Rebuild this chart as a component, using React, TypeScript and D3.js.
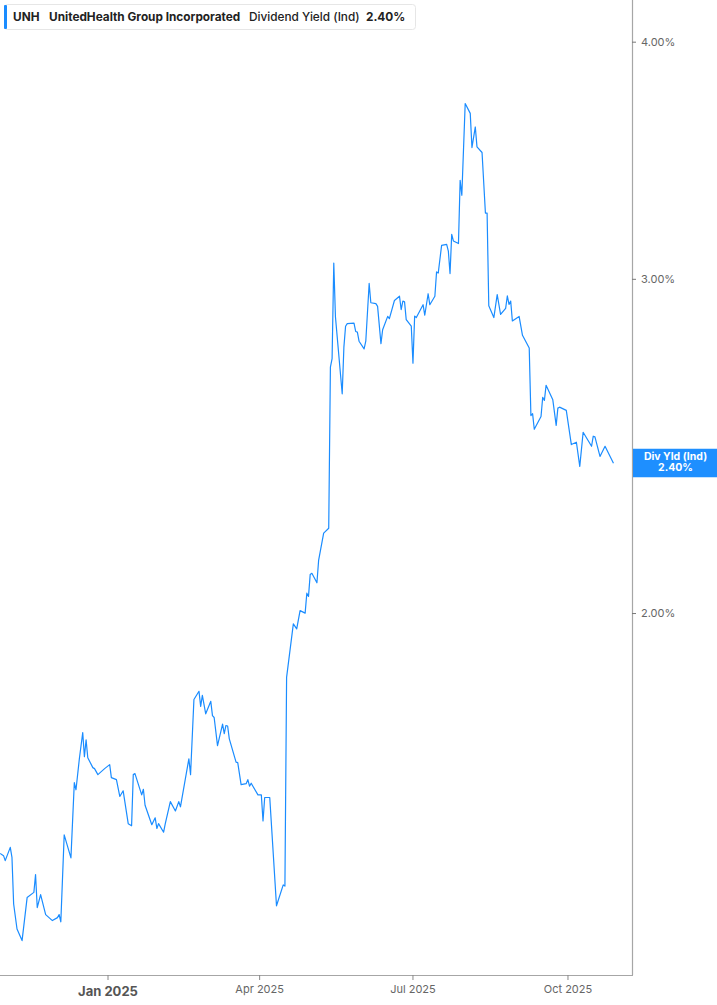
import { useEffect, useRef } from 'react';
import * as d3 from 'd3';

const dates = [
  "2024-10-29", "2024-10-31", "2024-11-01", "2024-11-04", "2024-11-05", "2024-11-06", "2024-11-08", "2024-11-11",
  "2024-11-14", "2024-11-18", "2024-11-19", "2024-11-20", "2024-11-22", "2024-11-25", "2024-11-29", "2024-12-02",
  "2024-12-03", "2024-12-04", "2024-12-06", "2024-12-10", "2024-12-12", "2024-12-13", "2024-12-15", "2024-12-17",
  "2024-12-18", "2024-12-19", "2024-12-20", "2024-12-23", "2024-12-24", "2024-12-26", "2024-12-30", "2025-01-02",
  "2025-01-03", "2025-01-06", "2025-01-08", "2025-01-10", "2025-01-13", "2025-01-15", "2025-01-16", "2025-01-17",
  "2025-01-21", "2025-01-22", "2025-01-23", "2025-01-27", "2025-01-29", "2025-01-30", "2025-01-31", "2025-02-03",
  "2025-02-04", "2025-02-07", "2025-02-10", "2025-02-12", "2025-02-13", "2025-02-18", "2025-02-19", "2025-02-21",
  "2025-02-24", "2025-02-25", "2025-02-26", "2025-02-28", "2025-03-03", "2025-03-04", "2025-03-05", "2025-03-07",
  "2025-03-10", "2025-03-11", "2025-03-12", "2025-03-13", "2025-03-14", "2025-03-18", "2025-03-19", "2025-03-21",
  "2025-03-24", "2025-03-25", "2025-03-26", "2025-03-27", "2025-03-28", "2025-03-31", "2025-04-02", "2025-04-03",
  "2025-04-04", "2025-04-07", "2025-04-11", "2025-04-15", "2025-04-16", "2025-04-17", "2025-04-21", "2025-04-23",
  "2025-04-25", "2025-04-28", "2025-04-29", "2025-04-30", "2025-05-01", "2025-05-02", "2025-05-05", "2025-05-06",
  "2025-05-09", "2025-05-12", "2025-05-13", "2025-05-14", "2025-05-15", "2025-05-16", "2025-05-20", "2025-05-21",
  "2025-05-22", "2025-05-23", "2025-05-27", "2025-05-28", "2025-05-29", "2025-05-30", "2025-06-02", "2025-06-03",
  "2025-06-05", "2025-06-06", "2025-06-09", "2025-06-10", "2025-06-12", "2025-06-13", "2025-06-16", "2025-06-17",
  "2025-06-20", "2025-06-23", "2025-06-24", "2025-06-25", "2025-06-26", "2025-06-27", "2025-06-30", "2025-07-01",
  "2025-07-02", "2025-07-03", "2025-07-07", "2025-07-08", "2025-07-10", "2025-07-11", "2025-07-14", "2025-07-15",
  "2025-07-16", "2025-07-18", "2025-07-21", "2025-07-22", "2025-07-23", "2025-07-24", "2025-07-25", "2025-07-28",
  "2025-07-29", "2025-07-30", "2025-08-01", "2025-08-04", "2025-08-05", "2025-08-07", "2025-08-08", "2025-08-11",
  "2025-08-13", "2025-08-14", "2025-08-15", "2025-08-18", "2025-08-20", "2025-08-22", "2025-08-25", "2025-08-26",
  "2025-08-27", "2025-08-28", "2025-08-29", "2025-09-02", "2025-09-04", "2025-09-08", "2025-09-09", "2025-09-10",
  "2025-09-11", "2025-09-15", "2025-09-16", "2025-09-17", "2025-09-18", "2025-09-22", "2025-09-24", "2025-09-25",
  "2025-09-26", "2025-09-30", "2025-10-03", "2025-10-06", "2025-10-08", "2025-10-10", "2025-10-15", "2025-10-16",
  "2025-10-17", "2025-10-20", "2025-10-23", "2025-10-28"
];

// dividend yield, percent
const yields = [
  1.495, 1.491, 1.482, 1.506, 1.488, 1.406, 1.364, 1.345,
  1.417, 1.426, 1.457, 1.400, 1.422, 1.388, 1.378, 1.383,
  1.388, 1.376, 1.529, 1.487, 1.629, 1.615, 1.677, 1.731,
  1.681, 1.716, 1.679, 1.659, 1.657, 1.645, 1.657, 1.665,
  1.639, 1.635, 1.602, 1.613, 1.550, 1.546, 1.645, 1.647,
  1.605, 1.616, 1.585, 1.548, 1.561, 1.541, 1.550, 1.534,
  1.550, 1.592, 1.574, 1.592, 1.582, 1.677, 1.645, 1.802,
  1.820, 1.787, 1.811, 1.771, 1.798, 1.767, 1.763, 1.704,
  1.749, 1.729, 1.746, 1.745, 1.718, 1.670, 1.669, 1.625,
  1.627, 1.635, 1.622, 1.628, 1.622, 1.605, 1.605, 1.555,
  1.600, 1.600, 1.403, 1.439, 1.437, 1.851, 1.975, 1.963,
  2.007, 2.001, 2.050, 2.042, 2.097, 2.100, 2.076, 2.133,
  2.205, 2.218, 2.697, 2.725, 3.060, 2.866, 2.611, 2.763,
  2.834, 2.843, 2.845, 2.816, 2.814, 2.783, 2.757, 2.783,
  2.985, 2.916, 2.913, 2.903, 2.775, 2.822, 2.868, 2.860,
  2.924, 2.939, 2.892, 2.922, 2.919, 2.857, 2.834, 2.710,
  2.869, 2.864, 2.909, 2.872, 2.948, 2.909, 2.939, 3.027,
  3.023, 3.126, 3.130, 3.104, 3.021, 3.168, 3.143, 3.133,
  3.383, 3.322, 3.713, 3.669, 3.520, 3.609, 3.523, 3.499,
  3.251, 3.251, 2.905, 2.864, 2.945, 2.875, 2.896, 2.940,
  2.910, 2.922, 2.852, 2.868, 2.803, 2.760, 2.543, 2.549,
  2.501, 2.540, 2.600, 2.590, 2.638, 2.592, 2.513, 2.566,
  2.569, 2.559, 2.455, 2.462, 2.391, 2.492, 2.450, 2.480,
  2.478, 2.420, 2.450, 2.400
];

const xTickDates = ["2025-01-01", "2025-04-01", "2025-07-01", "2025-10-01"];
const yTicks = [2, 3, 4];

const ticker = "UNH";
const company = "UnitedHealth Group Incorporated";
const metric = "Dividend Yield (Ind)";
const badgeTitle = "Div Yld (Ind)";

export default function App() {
  const svgRef = useRef<SVGSVGElement>(null);

  useEffect(() => {
    document.body.style.margin = "0";
    if (!svgRef.current) return;

    const width = 717;
    const height = 1005;
    const plotRight = 632;
    const plotBottom = 975;
    const blue = "#1a8cff";
    const font = "Inter, 'Noto Sans', sans-serif";

    const data = dates.map((d, i) => ({ date: new Date(d), value: yields[i] }));
    const last = data[data.length - 1];

    const svg = d3.select(svgRef.current);
    svg.selectAll("*").remove();

    const x = d3.scaleUtc()
      .domain([new Date("2024-10-28T21:36:00Z"), new Date("2025-11-08T00:00:00Z")])
      .range([0, plotRight]);

    const y = d3.scaleLog()
      .domain([1.29, 4.21])
      .range([plotBottom, 0]);

    svg.append("clipPath")
      .attr("id", "plot-clip")
      .append("rect")
      .attr("x", 0)
      .attr("y", 0)
      .attr("width", plotRight)
      .attr("height", plotBottom);

    // the line
    const line = d3.line<{ date: Date; value: number }>()
      .x(d => x(d.date))
      .y(d => y(d.value));

    svg.append("path")
      .datum(data)
      .attr("clip-path", "url(#plot-clip)")
      .attr("d", line)
      .attr("fill", "none")
      .attr("stroke", blue)
      .attr("stroke-width", 1.2)
      .attr("stroke-linejoin", "round");

    // right axis
    svg.append("line")
      .attr("x1", plotRight + 0.5).attr("x2", plotRight + 0.5)
      .attr("y1", 0).attr("y2", plotBottom)
      .attr("stroke", "#a6a6a6")
      .attr("stroke-width", 1.2);

    const yAxis = svg.append("g");
    yTicks.forEach(t => {
      yAxis.append("line")
        .attr("x1", plotRight).attr("x2", plotRight + 4)
        .attr("y1", y(t)).attr("y2", y(t))
        .attr("stroke", "#777");
      yAxis.append("text")
        .attr("x", plotRight + 9)
        .attr("y", y(t))
        .attr("dy", "0.35em")
        .attr("fill", "#666")
        .attr("font-family", font)
        .attr("font-size", "11px")
        .text(d3.format(".2f")(t) + "%");
    });

    // bottom axis
    svg.append("line")
      .attr("x1", 0).attr("x2", plotRight + 1)
      .attr("y1", plotBottom + 0.5).attr("y2", plotBottom + 0.5)
      .attr("stroke", "#a6a6a6")
      .attr("stroke-width", 1.2);

    const fmt = d3.utcFormat("%b %Y");
    xTickDates.forEach(s => {
      const d = new Date(s);
      const isYear = d.getUTCMonth() === 0;
      svg.append("line")
        .attr("x1", x(d)).attr("x2", x(d))
        .attr("y1", plotBottom).attr("y2", plotBottom + 5)
        .attr("stroke", "#888");
      svg.append("text")
        .attr("x", x(d))
        .attr("y", isYear ? plotBottom + 21 : plotBottom + 17.5)
        .attr("text-anchor", "middle")
        .attr("fill", isYear ? "#555" : "#666")
        .attr("font-family", font)
        .attr("font-size", isYear ? "13px" : "11px")
        .attr("font-weight", isYear ? 700 : 400)
        .text(fmt(d));
    });

    // last value badge
    const by = y(last.value);
    const cx = (plotRight + width) / 2 + 1;
    const badge = svg.append("g");
    badge.append("rect")
      .attr("x", plotRight + 1)
      .attr("y", by - 14.5)
      .attr("width", width - plotRight - 1)
      .attr("height", 28.5)
      .attr("fill", "#1e8fff");
    badge.append("text")
      .attr("x", cx)
      .attr("y", by - 3.5)
      .attr("text-anchor", "middle")
      .attr("fill", "#fff")
      .attr("font-family", font)
      .attr("font-size", "10.5px")
      .attr("font-weight", 700)
      .text(badgeTitle);
    badge.append("text")
      .attr("x", cx)
      .attr("y", by + 8)
      .attr("text-anchor", "middle")
      .attr("fill", "#fff")
      .attr("font-family", font)
      .attr("font-size", "10.5px")
      .attr("font-weight", 700)
      .text(d3.format(".2f")(last.value) + "%");

    // legend
    const lg = svg.append("g");
    lg.append("rect")
      .attr("x", 4.5).attr("y", 4.5)
      .attr("width", 411).attr("height", 25)
      .attr("rx", 3)
      .attr("fill", "#fff")
      .attr("stroke", "#e6e6e6");
    lg.append("rect")
      .attr("x", 4).attr("y", 5)
      .attr("width", 3).attr("height", 24)
      .attr("rx", 1)
      .attr("fill", blue);

    const legendItems = [
      { text: ticker, x: 13, weight: 700 },
      { text: company, x: 49, weight: 700 },
      { text: metric, x: 249, weight: 500 },
      { text: d3.format(".2f")(last.value) + "%", x: 366, weight: 700 }
    ];
    lg.selectAll("text.item")
      .data(legendItems)
      .enter()
      .append("text")
      .attr("class", "item")
      .attr("x", d => d.x)
      .attr("y", 21)
      .attr("fill", "#222")
      .attr("font-family", font)
      .attr("font-size", "11.8px")
      .attr("font-weight", d => d.weight)
      .text(d => d.text);

    svg.attr("height", height);
  }, []);

  return (
    <svg ref={svgRef} width={717} height={1005} style={{ display: 'block', background: '#fff' }}></svg>
  );
}
